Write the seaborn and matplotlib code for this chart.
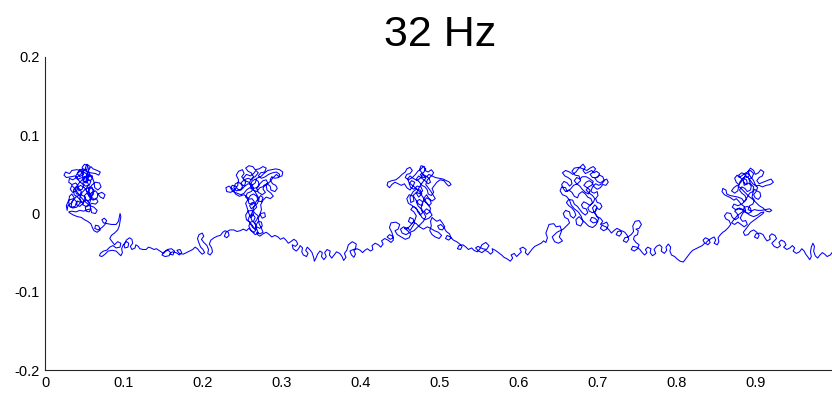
import matplotlib
matplotlib.use("Agg")
import matplotlib.pyplot as plt
import seaborn as sns
import pandas as pd

title = "32 Hz"
x_ticks = [0, 0.1, 0.2, 0.3, 0.4, 0.5, 0.6, 0.7, 0.8, 0.9, 1.0]
x_tick_labels = ["0", "0.1", "0.2", "0.3", "0.4", "0.5", "0.6", "0.7", "0.8", "0.9", "1"]
y_ticks = [-0.2, -0.1, 0, 0.1, 0.2]
y_tick_labels = ["-0.2", "-0.1", "0", "0.1", "0.2"]

cluster_1 = [
    (0.050, 0.040), (0.054, 0.044), (0.058, 0.041), (0.056, 0.036), (0.051, 0.035), (0.048, 0.039),
    (0.050, 0.045), (0.055, 0.050), (0.060, 0.048), (0.059, 0.043), (0.054, 0.042), (0.052, 0.047),
    (0.055, 0.055), (0.058, 0.060), (0.061, 0.057), (0.066, 0.055), (0.070, 0.053), (0.068, 0.049),
    (0.064, 0.051), (0.058, 0.052), (0.053, 0.053), (0.049, 0.057), (0.044, 0.056), (0.041, 0.051),
    (0.044, 0.047), (0.048, 0.050), (0.046, 0.055), (0.040, 0.056), (0.034, 0.055), (0.031, 0.051),
    (0.026, 0.053), (0.024, 0.049), (0.027, 0.046), (0.033, 0.047), (0.038, 0.048), (0.041, 0.044),
    (0.045, 0.040), (0.049, 0.036), (0.047, 0.031), (0.043, 0.029), (0.041, 0.033), (0.045, 0.036),
    (0.050, 0.033), (0.053, 0.028), (0.057, 0.025), (0.061, 0.028), (0.060, 0.033), (0.056, 0.034),
    (0.055, 0.030), (0.058, 0.022), (0.062, 0.018), (0.066, 0.020), (0.067, 0.025), (0.072, 0.027),
    (0.076, 0.024), (0.074, 0.019), (0.070, 0.021), (0.064, 0.029), (0.060, 0.027), (0.059, 0.021),
    (0.055, 0.016), (0.051, 0.018), (0.050, 0.023), (0.053, 0.026), (0.057, 0.024), (0.058, 0.018),
    (0.056, 0.012), (0.052, 0.009), (0.048, 0.011), (0.049, 0.016), (0.053, 0.017), (0.056, 0.013),
    (0.058, 0.006), (0.056, 0.002), (0.052, 0.003), (0.051, 0.008), (0.055, 0.010), (0.059, 0.013),
    (0.064, 0.012), (0.067, 0.015), (0.065, 0.019), (0.061, 0.017), (0.057, 0.020), (0.054, 0.025),
    (0.052, 0.031), (0.055, 0.037), (0.052, 0.044), (0.056, 0.047), (0.054, 0.052), (0.051, 0.058),
    (0.053, 0.063), (0.056, 0.061), (0.055, 0.055), (0.057, 0.049), (0.053, 0.045), (0.049, 0.047),
    (0.047, 0.043), (0.044, 0.040), (0.041, 0.036), (0.038, 0.030), (0.040, 0.025), (0.044, 0.024),
    (0.046, 0.028), (0.043, 0.032), (0.039, 0.034), (0.036, 0.030), (0.037, 0.024), (0.041, 0.021),
    (0.045, 0.017), (0.048, 0.013), (0.044, 0.009), (0.040, 0.011), (0.041, 0.016), (0.045, 0.014),
    (0.040, 0.008), (0.035, 0.007), (0.031, 0.009), (0.030, 0.015), (0.031, 0.022), (0.034, 0.025),
    (0.037, 0.020), (0.034, 0.014), (0.029, 0.010), (0.028, 0.004),
    (0.027, 0.010), (0.030, 0.017), (0.036, 0.019), (0.040, 0.015), (0.038, 0.009), (0.033, 0.008),
    (0.034, 0.015), (0.040, 0.022), (0.046, 0.024), (0.051, 0.021), (0.050, 0.015), (0.045, 0.014),
    (0.044, 0.020), (0.047, 0.027), (0.052, 0.032), (0.058, 0.033), (0.062, 0.030), (0.061, 0.024),
    (0.056, 0.022), (0.055, 0.028), (0.059, 0.036), (0.064, 0.040), (0.069, 0.039), (0.071, 0.034),
    (0.067, 0.030), (0.063, 0.033), (0.062, 0.040), (0.060, 0.046), (0.055, 0.049), (0.050, 0.047),
    (0.048, 0.042), (0.052, 0.039), (0.055, 0.043), (0.053, 0.050), (0.048, 0.054), (0.042, 0.053),
    (0.039, 0.048), (0.042, 0.044), (0.047, 0.046), (0.049, 0.052), (0.047, 0.059), (0.050, 0.063),
    (0.054, 0.061), (0.053, 0.056), (0.049, 0.055), (0.045, 0.050), (0.040, 0.046), (0.035, 0.043),
    (0.031, 0.045), (0.030, 0.040), (0.034, 0.037), (0.039, 0.039), (0.042, 0.035), (0.040, 0.029),
    (0.035, 0.027), (0.032, 0.031), (0.034, 0.036), (0.039, 0.030), (0.043, 0.024), (0.047, 0.019),
    (0.052, 0.014), (0.057, 0.010), (0.062, 0.008), (0.066, 0.004), (0.064, 0.000), (0.059, 0.001),
    (0.058, 0.006), (0.054, 0.005), (0.049, 0.003), (0.044, 0.004), (0.039, 0.002), (0.034, 0.003),
    (0.030, 0.002),
]

drift_1 = [
    (0.031, 0.001), (0.036, -0.002), (0.041, -0.004), (0.046, -0.005), (0.050, -0.008), (0.054, -0.010),
    (0.058, -0.013), (0.060, -0.018), (0.062, -0.022), (0.066, -0.024), (0.070, -0.021), (0.068, -0.016),
    (0.064, -0.015), (0.063, -0.019), (0.067, -0.021), (0.072, -0.018), (0.076, -0.014), (0.078, -0.009),
    (0.075, -0.006), (0.072, -0.008), (0.074, -0.012), (0.079, -0.013), (0.084, -0.014), (0.090, -0.014),
    (0.093, -0.010), (0.094, -0.005), (0.095, 0.000), (0.096, -0.004), (0.095, -0.010), (0.094, -0.016),
    (0.092, -0.021), (0.088, -0.025), (0.084, -0.028), (0.082, -0.032), (0.085, -0.036), (0.088, -0.040),
    (0.092, -0.036), (0.096, -0.038), (0.095, -0.043), (0.090, -0.044), (0.086, -0.041), (0.082, -0.043),
    (0.078, -0.047), (0.074, -0.048), (0.070, -0.051), (0.069, -0.054), (0.072, -0.055), (0.076, -0.052),
    (0.080, -0.048), (0.085, -0.047), (0.090, -0.048), (0.093, -0.051), (0.096, -0.054), (0.098, -0.050),
    (0.097, -0.045), (0.099, -0.040), (0.103, -0.036), (0.106, -0.038), (0.105, -0.043), (0.101, -0.044),
    (0.100, -0.040), (0.103, -0.034), (0.107, -0.031), (0.110, -0.033), (0.111, -0.038), (0.108, -0.042),
    (0.110, -0.046), (0.114, -0.044), (0.115, -0.040), (0.118, -0.042), (0.120, -0.045), (0.124, -0.046),
    (0.128, -0.046), (0.131, -0.043), (0.134, -0.044), (0.138, -0.046), (0.141, -0.045), (0.144, -0.047),
    (0.147, -0.049), (0.150, -0.051), (0.153, -0.048), (0.156, -0.047), (0.159, -0.050), (0.157, -0.054),
    (0.152, -0.055), (0.148, -0.053), (0.151, -0.049), (0.155, -0.046), (0.160, -0.045), (0.164, -0.048),
    (0.162, -0.053), (0.158, -0.052), (0.161, -0.049), (0.166, -0.050), (0.170, -0.053), (0.173, -0.050),
    (0.171, -0.046), (0.167, -0.047), (0.170, -0.051), (0.175, -0.052), (0.179, -0.050), (0.183, -0.048),
    (0.187, -0.046), (0.190, -0.043), (0.193, -0.045), (0.196, -0.049), (0.199, -0.052), (0.202, -0.050),
    (0.200, -0.046), (0.197, -0.043), (0.195, -0.038), (0.193, -0.032), (0.195, -0.027), (0.199, -0.025),
    (0.201, -0.029), (0.198, -0.033), (0.201, -0.037), (0.205, -0.041), (0.207, -0.046), (0.206, -0.051),
    (0.209, -0.053), (0.212, -0.049), (0.211, -0.044), (0.208, -0.039), (0.210, -0.034), (0.214, -0.031),
    (0.218, -0.029), (0.222, -0.028), (0.225, -0.024), (0.228, -0.022), (0.232, -0.024), (0.233, -0.028),
    (0.230, -0.031), (0.227, -0.029), (0.229, -0.024), (0.234, -0.021), (0.239, -0.021), (0.243, -0.023),
    (0.247, -0.022), (0.251, -0.020), (0.255, -0.022), (0.258, -0.019),
]

cluster_2 = [
    (0.262, -0.023), (0.266, -0.027), (0.270, -0.025), (0.268, -0.020), (0.263, -0.018), (0.260, -0.013),
    (0.257, -0.008), (0.259, -0.003), (0.263, -0.001), (0.266, -0.005), (0.264, -0.010), (0.260, -0.011),
    (0.258, -0.016), (0.261, -0.022), (0.265, -0.024), (0.268, -0.019), (0.266, -0.013), (0.262, -0.009),
    (0.260, -0.004), (0.262, 0.001), (0.265, 0.005), (0.268, 0.008), (0.266, 0.013), (0.262, 0.014),
    (0.259, 0.010), (0.261, 0.006), (0.265, 0.009), (0.267, 0.015), (0.270, 0.019), (0.273, 0.023),
    (0.276, 0.020), (0.274, 0.015), (0.270, 0.016), (0.268, 0.022), (0.264, 0.025), (0.260, 0.023),
    (0.257, 0.018), (0.254, 0.021), (0.256, 0.026), (0.261, 0.028), (0.264, 0.032), (0.262, 0.037),
    (0.257, 0.038), (0.253, 0.035), (0.249, 0.037), (0.245, 0.040), (0.241, 0.038), (0.239, 0.033),
    (0.242, 0.029), (0.247, 0.030), (0.250, 0.034), (0.248, 0.039), (0.252, 0.043), (0.257, 0.045),
    (0.262, 0.043), (0.264, 0.047), (0.261, 0.052), (0.257, 0.054), (0.254, 0.058), (0.258, 0.061),
    (0.263, 0.060), (0.266, 0.056), (0.271, 0.057), (0.276, 0.060), (0.280, 0.058), (0.278, 0.053),
    (0.273, 0.052), (0.270, 0.048), (0.274, 0.045), (0.279, 0.047), (0.283, 0.050), (0.288, 0.052),
    (0.293, 0.053), (0.297, 0.050), (0.296, 0.046), (0.291, 0.045), (0.287, 0.047), (0.285, 0.043),
    (0.288, 0.038), (0.292, 0.036), (0.294, 0.032), (0.291, 0.028), (0.286, 0.030), (0.285, 0.035),
    (0.281, 0.038), (0.277, 0.036), (0.276, 0.031), (0.279, 0.027), (0.275, 0.024), (0.270, 0.027),
    (0.268, 0.032), (0.271, 0.036), (0.270, 0.041), (0.266, 0.044), (0.262, 0.041), (0.260, 0.036),
    (0.263, 0.032), (0.268, 0.033), (0.272, 0.038), (0.276, 0.042), (0.280, 0.043), (0.282, 0.039),
    (0.278, 0.035), (0.272, 0.033), (0.268, 0.028), (0.264, 0.030), (0.259, 0.033), (0.255, 0.030),
    (0.252, 0.026), (0.248, 0.024), (0.243, 0.026), (0.238, 0.028), (0.235, 0.032), (0.237, 0.036),
    (0.241, 0.035), (0.244, 0.031), (0.248, 0.030), (0.252, 0.034), (0.254, 0.040), (0.251, 0.045),
    (0.255, 0.050), (0.260, 0.048), (0.264, 0.051), (0.267, 0.055), (0.270, 0.052), (0.266, 0.047),
    (0.262, 0.045), (0.259, 0.040), (0.261, 0.033), (0.265, 0.029), (0.268, 0.024), (0.271, 0.019),
    (0.269, 0.013), (0.265, 0.010), (0.263, 0.004), (0.266, 0.000), (0.270, -0.003), (0.268, -0.008),
    (0.265, -0.012), (0.268, -0.017), (0.272, -0.019), (0.275, -0.016), (0.274, -0.011), (0.270, -0.010),
    (0.267, -0.015), (0.266, -0.021),
    (0.263, -0.016), (0.259, -0.011), (0.255, -0.008), (0.254, -0.002), (0.257, 0.003), (0.262, 0.004),
    (0.264, -0.001), (0.261, -0.005), (0.258, 0.000), (0.256, 0.007), (0.254, 0.013), (0.257, 0.018),
    (0.262, 0.019), (0.265, 0.015), (0.262, 0.011), (0.258, 0.013), (0.257, 0.020), (0.252, 0.024),
    (0.246, 0.022), (0.241, 0.025), (0.238, 0.031), (0.233, 0.035), (0.229, 0.033), (0.230, 0.028),
    (0.235, 0.027), (0.240, 0.030), (0.244, 0.036), (0.245, 0.043), (0.242, 0.049), (0.245, 0.054),
    (0.250, 0.056), (0.252, 0.051), (0.249, 0.047), (0.253, 0.042), (0.258, 0.040), (0.262, 0.036),
    (0.266, 0.039), (0.268, 0.045), (0.273, 0.047), (0.277, 0.051), (0.282, 0.055), (0.287, 0.056),
    (0.292, 0.057), (0.297, 0.056), (0.301, 0.053), (0.300, 0.048), (0.296, 0.047), (0.293, 0.050),
    (0.289, 0.046), (0.285, 0.041), (0.280, 0.036), (0.281, 0.030), (0.286, 0.026), (0.289, 0.022),
    (0.285, 0.019), (0.280, 0.021), (0.276, 0.017), (0.273, 0.011), (0.274, 0.005), (0.272, -0.001),
    (0.275, -0.006), (0.279, -0.004), (0.278, 0.001), (0.273, 0.000), (0.270, -0.006), (0.271, -0.013),
    (0.274, -0.019), (0.276, -0.024), (0.272, -0.026), (0.268, -0.024),
]

drift_2 = [
    (0.269, -0.027), (0.272, -0.029), (0.276, -0.026), (0.280, -0.024), (0.284, -0.027), (0.287, -0.030),
    (0.291, -0.028), (0.295, -0.030), (0.298, -0.033), (0.302, -0.031), (0.305, -0.034), (0.308, -0.038),
    (0.311, -0.036), (0.315, -0.033), (0.318, -0.035), (0.320, -0.039), (0.317, -0.042), (0.313, -0.040),
    (0.314, -0.045), (0.318, -0.048), (0.321, -0.045), (0.323, -0.041), (0.326, -0.044), (0.325, -0.049),
    (0.327, -0.053), (0.331, -0.055), (0.333, -0.051), (0.330, -0.047), (0.332, -0.043), (0.335, -0.046),
    (0.338, -0.050), (0.340, -0.056), (0.341, -0.061), (0.343, -0.057), (0.345, -0.052), (0.348, -0.048),
    (0.351, -0.050), (0.350, -0.055), (0.353, -0.059), (0.356, -0.055), (0.354, -0.050), (0.357, -0.046),
    (0.361, -0.048), (0.360, -0.053), (0.363, -0.057), (0.366, -0.053), (0.369, -0.049), (0.373, -0.051),
    (0.376, -0.055), (0.378, -0.060), (0.381, -0.056), (0.379, -0.051), (0.382, -0.047), (0.384, -0.040),
    (0.389, -0.036), (0.394, -0.039), (0.393, -0.045), (0.388, -0.047), (0.386, -0.048),
    (0.388, -0.053), (0.391, -0.056), (0.393, -0.052), (0.391, -0.047), (0.395, -0.045), (0.399, -0.047),
    (0.402, -0.050), (0.405, -0.047), (0.408, -0.045), (0.412, -0.048), (0.415, -0.046), (0.414, -0.041),
    (0.418, -0.038), (0.422, -0.040), (0.425, -0.043), (0.428, -0.039), (0.426, -0.035), (0.430, -0.032),
    (0.434, -0.034), (0.438, -0.037), (0.441, -0.034), (0.440, -0.029), (0.436, -0.027), (0.433, -0.030),
    (0.437, -0.033), (0.441, -0.031), (0.439, -0.024), (0.436, -0.018), (0.438, -0.012), (0.444, -0.011),
    (0.449, -0.014), (0.447, -0.020), (0.443, -0.022), (0.446, -0.027), (0.451, -0.030), (0.456, -0.033),
    (0.461, -0.031), (0.463, -0.026), (0.459, -0.022), (0.455, -0.019), (0.459, -0.018), (0.462, -0.022),
]

cluster_3 = [
    (0.465, -0.017), (0.468, -0.012), (0.466, -0.007), (0.462, -0.005), (0.460, -0.010), (0.464, -0.013),
    (0.468, -0.009), (0.470, -0.003), (0.467, 0.002), (0.463, 0.005), (0.466, 0.009), (0.470, 0.007),
    (0.472, 0.002), (0.475, -0.002), (0.478, 0.001), (0.476, 0.006), (0.472, 0.010), (0.470, 0.015),
    (0.474, 0.018), (0.478, 0.015), (0.477, 0.010), (0.473, 0.012), (0.469, 0.018), (0.466, 0.023),
    (0.470, 0.027), (0.475, 0.025), (0.478, 0.029), (0.476, 0.034), (0.471, 0.035), (0.467, 0.031),
    (0.463, 0.033), (0.461, 0.038), (0.464, 0.042), (0.468, 0.040), (0.466, 0.035), (0.462, 0.030),
    (0.458, 0.033), (0.455, 0.038), (0.451, 0.036), (0.447, 0.038), (0.443, 0.040), (0.439, 0.037),
    (0.436, 0.033), (0.433, 0.036), (0.434, 0.040), (0.439, 0.042), (0.444, 0.043), (0.448, 0.046),
    (0.452, 0.050), (0.456, 0.053), (0.458, 0.057), (0.462, 0.059), (0.465, 0.055), (0.462, 0.051),
    (0.458, 0.050), (0.456, 0.046), (0.460, 0.043), (0.465, 0.046), (0.469, 0.050), (0.472, 0.054),
    (0.476, 0.057), (0.479, 0.060), (0.482, 0.057), (0.479, 0.052), (0.475, 0.050), (0.478, 0.046),
    (0.483, 0.047), (0.486, 0.050), (0.490, 0.048), (0.494, 0.046), (0.499, 0.045), (0.504, 0.044),
    (0.508, 0.042), (0.512, 0.040), (0.514, 0.037), (0.511, 0.035), (0.508, 0.038), (0.505, 0.042),
    (0.500, 0.043), (0.496, 0.040), (0.493, 0.036), (0.490, 0.032), (0.492, 0.027), (0.489, 0.023),
    (0.485, 0.025), (0.484, 0.030), (0.481, 0.034), (0.477, 0.036), (0.474, 0.040), (0.470, 0.044),
    (0.473, 0.048), (0.477, 0.045), (0.481, 0.042), (0.485, 0.038), (0.488, 0.040), (0.486, 0.045),
    (0.482, 0.048), (0.478, 0.050), (0.476, 0.046), (0.471, 0.042), (0.466, 0.045), (0.462, 0.048),
    (0.459, 0.044), (0.461, 0.039), (0.465, 0.036), (0.470, 0.032), (0.474, 0.028), (0.477, 0.023),
    (0.480, 0.018), (0.483, 0.014), (0.486, 0.010), (0.489, 0.013), (0.487, 0.018), (0.483, 0.020),
    (0.480, 0.016), (0.484, 0.012), (0.488, 0.007), (0.487, 0.002), (0.483, -0.001), (0.480, 0.003),
    (0.483, 0.006), (0.487, 0.003), (0.490, -0.002),
    (0.486, -0.006), (0.481, -0.008), (0.477, -0.005), (0.474, 0.001), (0.470, 0.006), (0.465, 0.010),
    (0.460, 0.013), (0.458, 0.019), (0.461, 0.024), (0.466, 0.022), (0.467, 0.016), (0.463, 0.014),
    (0.462, 0.021), (0.466, 0.028), (0.470, 0.031), (0.475, 0.030), (0.477, 0.025), (0.473, 0.021),
    (0.470, 0.026), (0.474, 0.034), (0.478, 0.040), (0.482, 0.045), (0.478, 0.051), (0.474, 0.056),
    (0.476, 0.061), (0.480, 0.060), (0.481, 0.055), (0.485, 0.053), (0.489, 0.056), (0.492, 0.052),
    (0.489, 0.048), (0.484, 0.043), (0.482, 0.037), (0.485, 0.033), (0.488, 0.029), (0.491, 0.024),
    (0.494, 0.019), (0.490, 0.016), (0.486, 0.019), (0.483, 0.024), (0.480, 0.020), (0.478, 0.013),
    (0.476, 0.007), (0.479, 0.002), (0.482, -0.004), (0.479, -0.010), (0.475, -0.014), (0.471, -0.018),
    (0.467, -0.022), (0.462, -0.024), (0.457, -0.027), (0.452, -0.025), (0.450, -0.020), (0.454, -0.017),
    (0.458, -0.020), (0.462, -0.016), (0.466, -0.011), (0.470, -0.013), (0.474, -0.017), (0.479, -0.020),
    (0.484, -0.017), (0.488, -0.019), (0.493, -0.022), (0.498, -0.024), (0.502, -0.028), (0.499, -0.032),
    (0.494, -0.030), (0.490, -0.027), (0.487, -0.022), (0.489, -0.016), (0.488, -0.010), (0.490, -0.005),
]

drift_3 = [
    (0.492, -0.007), (0.496, -0.010), (0.500, -0.008), (0.503, -0.012), (0.506, -0.017), (0.503, -0.021),
    (0.499, -0.020), (0.497, -0.016), (0.501, -0.014), (0.505, -0.018), (0.508, -0.023), (0.512, -0.026),
    (0.514, -0.031), (0.511, -0.034), (0.507, -0.032), (0.509, -0.028), (0.513, -0.030), (0.517, -0.034),
    (0.521, -0.036), (0.525, -0.039), (0.528, -0.042), (0.526, -0.046), (0.522, -0.045), (0.524, -0.041),
    (0.529, -0.040), (0.533, -0.043), (0.536, -0.046), (0.540, -0.044), (0.543, -0.047), (0.547, -0.049),
    (0.550, -0.046), (0.553, -0.040), (0.558, -0.037), (0.562, -0.041), (0.559, -0.046), (0.554, -0.045),
    (0.548, -0.042), (0.545, -0.044), (0.549, -0.048), (0.553, -0.050), (0.557, -0.047),
    (0.561, -0.049), (0.564, -0.052), (0.567, -0.049), (0.566, -0.045), (0.570, -0.047), (0.574, -0.050),
    (0.578, -0.053), (0.581, -0.056), (0.585, -0.058), (0.589, -0.061), (0.592, -0.057), (0.590, -0.053),
    (0.594, -0.051), (0.597, -0.055), (0.600, -0.052), (0.603, -0.049), (0.601, -0.045), (0.605, -0.043),
    (0.609, -0.046), (0.608, -0.050), (0.611, -0.053), (0.614, -0.049), (0.617, -0.045), (0.620, -0.042),
    (0.624, -0.040), (0.628, -0.038), (0.631, -0.035), (0.634, -0.037), (0.636, -0.031), (0.634, -0.025),
    (0.638, -0.014), (0.644, -0.013), (0.647, -0.017), (0.652, -0.016), (0.654, -0.022), (0.651, -0.030),
    (0.655, -0.035), (0.650, -0.038), (0.645, -0.036), (0.642, -0.030), (0.648, -0.024), (0.652, -0.022),
    (0.656, -0.020),
]

cluster_4 = [
    (0.660, -0.016), (0.664, -0.012), (0.662, -0.007), (0.658, -0.005), (0.656, 0.000), (0.659, 0.004),
    (0.664, 0.002), (0.665, -0.003), (0.669, -0.006), (0.672, -0.002), (0.670, 0.003), (0.667, 0.007),
    (0.663, 0.010), (0.660, 0.014), (0.663, 0.018), (0.668, 0.017), (0.670, 0.012), (0.674, 0.009),
    (0.677, 0.005), (0.680, 0.001), (0.684, -0.002), (0.687, 0.001), (0.685, 0.006), (0.681, 0.007),
    (0.679, 0.011), (0.682, 0.015), (0.686, 0.013), (0.690, 0.010), (0.693, 0.014), (0.691, 0.019),
    (0.687, 0.021), (0.684, 0.025), (0.680, 0.028), (0.676, 0.025), (0.674, 0.020), (0.670, 0.022),
    (0.667, 0.027), (0.663, 0.030), (0.659, 0.028), (0.656, 0.032), (0.654, 0.037), (0.657, 0.041),
    (0.661, 0.039), (0.664, 0.035), (0.667, 0.038), (0.666, 0.043), (0.662, 0.046), (0.658, 0.048),
    (0.655, 0.052), (0.659, 0.055), (0.664, 0.053), (0.668, 0.050), (0.672, 0.053), (0.675, 0.057),
    (0.678, 0.060), (0.681, 0.063), (0.684, 0.059), (0.681, 0.055), (0.684, 0.051), (0.688, 0.053),
    (0.692, 0.055), (0.695, 0.052), (0.698, 0.054), (0.702, 0.051), (0.700, 0.047), (0.696, 0.045),
    (0.699, 0.041), (0.703, 0.039), (0.707, 0.042), (0.711, 0.044), (0.713, 0.040), (0.710, 0.036),
    (0.706, 0.037), (0.703, 0.033), (0.699, 0.031), (0.695, 0.034), (0.693, 0.039), (0.689, 0.042),
    (0.685, 0.040), (0.682, 0.036), (0.686, 0.033), (0.690, 0.030), (0.688, 0.025), (0.684, 0.027),
    (0.680, 0.031), (0.677, 0.035), (0.673, 0.038), (0.670, 0.042), (0.673, 0.046), (0.677, 0.044),
    (0.680, 0.047), (0.685, 0.047), (0.690, 0.044), (0.694, 0.041), (0.692, 0.036), (0.688, 0.034),
    (0.685, 0.030), (0.689, 0.026), (0.693, 0.023), (0.696, 0.019), (0.694, 0.014), (0.690, 0.011),
    (0.687, 0.007), (0.689, 0.003), (0.693, 0.001), (0.697, 0.003), (0.699, 0.008), (0.696, 0.011),
    (0.693, 0.007), (0.695, 0.002), (0.698, -0.003), (0.701, -0.007), (0.698, -0.011), (0.694, -0.012),
    (0.690, -0.009), (0.692, -0.005), (0.696, -0.006), (0.700, -0.010),
    (0.697, -0.015), (0.693, -0.018), (0.688, -0.016), (0.684, -0.012), (0.680, -0.008), (0.676, -0.004),
    (0.672, -0.008), (0.673, -0.014), (0.678, -0.016), (0.681, -0.011), (0.679, -0.004), (0.675, 0.002),
    (0.670, 0.006), (0.666, 0.011), (0.664, 0.017), (0.660, 0.022), (0.655, 0.024), (0.652, 0.029),
    (0.654, 0.034), (0.659, 0.033), (0.661, 0.028), (0.665, 0.031), (0.669, 0.036), (0.674, 0.038),
    (0.678, 0.042), (0.676, 0.048), (0.671, 0.049), (0.667, 0.054), (0.670, 0.058), (0.676, 0.059),
    (0.681, 0.057), (0.686, 0.055), (0.690, 0.058), (0.694, 0.060), (0.697, 0.057), (0.694, 0.053),
    (0.690, 0.050), (0.693, 0.046), (0.698, 0.046), (0.702, 0.049), (0.706, 0.047), (0.708, 0.042),
    (0.705, 0.038), (0.701, 0.036), (0.697, 0.038), (0.693, 0.034), (0.691, 0.028), (0.695, 0.026),
    (0.699, 0.028), (0.700, 0.023), (0.697, 0.019), (0.699, 0.014), (0.703, 0.013), (0.705, 0.009),
    (0.702, 0.005), (0.698, 0.007), (0.696, 0.001), (0.699, -0.004), (0.703, -0.006), (0.706, -0.010),
]

drift_4 = [
    (0.703, -0.014), (0.707, -0.013), (0.711, -0.011), (0.713, -0.015), (0.711, -0.020), (0.707, -0.022),
    (0.703, -0.019), (0.705, -0.015), (0.710, -0.017), (0.714, -0.021), (0.717, -0.025), (0.720, -0.022),
    (0.724, -0.019), (0.728, -0.021), (0.730, -0.025), (0.727, -0.029), (0.723, -0.027), (0.725, -0.023),
    (0.730, -0.022), (0.734, -0.024), (0.737, -0.028), (0.739, -0.033), (0.736, -0.037), (0.732, -0.035),
    (0.734, -0.031), (0.738, -0.030), (0.742, -0.027), (0.745, -0.023), (0.744, -0.016), (0.747, -0.010),
    (0.752, -0.009), (0.755, -0.014), (0.752, -0.019), (0.748, -0.020), (0.751, -0.022),
    (0.750, -0.027), (0.746, -0.029), (0.745, -0.033), (0.748, -0.037), (0.752, -0.040), (0.750, -0.045),
    (0.746, -0.048), (0.742, -0.046), (0.744, -0.042), (0.749, -0.043), (0.753, -0.046), (0.756, -0.050),
    (0.759, -0.053), (0.762, -0.050), (0.760, -0.046), (0.763, -0.043), (0.767, -0.045), (0.766, -0.050),
    (0.769, -0.054), (0.773, -0.051), (0.771, -0.046), (0.774, -0.042), (0.778, -0.040), (0.781, -0.043),
    (0.780, -0.048), (0.784, -0.051), (0.787, -0.047), (0.786, -0.043), (0.789, -0.039), (0.792, -0.043),
    (0.791, -0.048), (0.793, -0.053), (0.797, -0.055), (0.800, -0.058), (0.804, -0.061), (0.808, -0.062),
    (0.811, -0.058), (0.814, -0.054), (0.817, -0.050), (0.820, -0.047), (0.824, -0.045), (0.828, -0.043),
    (0.832, -0.041), (0.835, -0.038), (0.833, -0.034), (0.836, -0.031), (0.840, -0.033), (0.842, -0.037),
    (0.839, -0.040), (0.836, -0.038), (0.839, -0.035), (0.843, -0.032), (0.847, -0.030), (0.849, -0.034),
    (0.847, -0.038), (0.851, -0.040), (0.853, -0.036), (0.852, -0.031), (0.855, -0.027), (0.858, -0.024),
    (0.861, -0.022),
]

cluster_5 = [
    (0.865, -0.018), (0.868, -0.014), (0.866, -0.009), (0.862, -0.007), (0.860, -0.003), (0.863, 0.001),
    (0.868, 0.000), (0.870, -0.005), (0.874, -0.008), (0.878, -0.005), (0.876, 0.000), (0.873, 0.003),
    (0.877, 0.006), (0.882, 0.005), (0.886, 0.002), (0.890, 0.000), (0.894, 0.002), (0.893, 0.007),
    (0.889, 0.009), (0.885, 0.008), (0.884, 0.003), (0.880, 0.000), (0.876, -0.003), (0.872, -0.008),
    (0.869, -0.012), (0.873, -0.014), (0.877, -0.011), (0.881, -0.014), (0.885, -0.017), (0.889, -0.014),
    (0.887, -0.009), (0.883, -0.010), (0.880, -0.006), (0.883, 0.000), (0.887, 0.004), (0.885, 0.009),
    (0.881, 0.012), (0.878, 0.016), (0.875, 0.019), (0.872, 0.017), (0.868, 0.020), (0.864, 0.022),
    (0.860, 0.024), (0.857, 0.028), (0.858, 0.032), (0.862, 0.030), (0.863, 0.025), (0.867, 0.023),
    (0.872, 0.022), (0.877, 0.021), (0.882, 0.019), (0.885, 0.015), (0.888, 0.018), (0.886, 0.023),
    (0.882, 0.026), (0.879, 0.030), (0.882, 0.034), (0.886, 0.032), (0.889, 0.028), (0.893, 0.030),
    (0.894, 0.035), (0.891, 0.039), (0.887, 0.037), (0.884, 0.041), (0.881, 0.045), (0.878, 0.049),
    (0.882, 0.052), (0.886, 0.050), (0.889, 0.046), (0.892, 0.049), (0.890, 0.054), (0.893, 0.058),
    (0.897, 0.055), (0.899, 0.050), (0.903, 0.052), (0.906, 0.056), (0.910, 0.053), (0.908, 0.048),
    (0.904, 0.046), (0.901, 0.042), (0.904, 0.038), (0.909, 0.040), (0.914, 0.042), (0.919, 0.044),
    (0.922, 0.040), (0.918, 0.037), (0.913, 0.036), (0.908, 0.034), (0.904, 0.036), (0.900, 0.035),
    (0.896, 0.038), (0.893, 0.042), (0.890, 0.046), (0.886, 0.047), (0.883, 0.045), (0.881, 0.040),
    (0.878, 0.037), (0.875, 0.040), (0.873, 0.045), (0.876, 0.049), (0.879, 0.046), (0.883, 0.049),
    (0.887, 0.052), (0.891, 0.050), (0.894, 0.046), (0.897, 0.042), (0.899, 0.037), (0.902, 0.033),
    (0.900, 0.028), (0.897, 0.024), (0.899, 0.020), (0.903, 0.018), (0.906, 0.022), (0.905, 0.027),
    (0.901, 0.029), (0.898, 0.031), (0.896, 0.026), (0.895, 0.021), (0.898, 0.017), (0.896, 0.012),
    (0.892, 0.010), (0.890, 0.005), (0.894, 0.003), (0.898, 0.005), (0.902, 0.004), (0.907, 0.004),
    (0.912, 0.005), (0.917, 0.006), (0.920, 0.004), (0.917, 0.002), (0.913, 0.003),
    (0.909, 0.007), (0.904, 0.010), (0.900, 0.014), (0.896, 0.018), (0.892, 0.021), (0.888, 0.025),
    (0.884, 0.029), (0.880, 0.033), (0.876, 0.036), (0.872, 0.033), (0.869, 0.029), (0.873, 0.026),
    (0.877, 0.029), (0.878, 0.035), (0.880, 0.041), (0.884, 0.045), (0.888, 0.043), (0.889, 0.038),
    (0.885, 0.036), (0.884, 0.042), (0.886, 0.048), (0.889, 0.053), (0.893, 0.055), (0.897, 0.051),
    (0.895, 0.046), (0.891, 0.044), (0.893, 0.038), (0.897, 0.034), (0.896, 0.028), (0.892, 0.026),
    (0.889, 0.021), (0.886, 0.016), (0.882, 0.012), (0.877, 0.010), (0.872, 0.012), (0.870, 0.008),
    (0.874, 0.005), (0.879, 0.007), (0.884, 0.005), (0.888, 0.001), (0.892, -0.002), (0.897, -0.004),
    (0.902, -0.002), (0.906, 0.001), (0.910, 0.002),
]

drift_5 = [
    (0.909, 0.000), (0.905, -0.003), (0.901, -0.006), (0.897, -0.009), (0.893, -0.012), (0.890, -0.016),
    (0.887, -0.020), (0.884, -0.024), (0.886, -0.028), (0.890, -0.027), (0.893, -0.023), (0.897, -0.021),
    (0.901, -0.024), (0.904, -0.028), (0.902, -0.032), (0.898, -0.030), (0.900, -0.026), (0.905, -0.025),
    (0.909, -0.027), (0.911, -0.031), (0.914, -0.035), (0.918, -0.033), (0.917, -0.029), (0.920, -0.026),
    (0.924, -0.028), (0.926, -0.032), (0.923, -0.035), (0.920, -0.038), (0.923, -0.042), (0.927, -0.044),
    (0.931, -0.041), (0.929, -0.037), (0.932, -0.034), (0.936, -0.036), (0.938, -0.040), (0.935, -0.043),
    (0.939, -0.046), (0.943, -0.044), (0.946, -0.041), (0.949, -0.044), (0.947, -0.048), (0.951, -0.051),
    (0.955, -0.049), (0.958, -0.045), (0.961, -0.048), (0.963, -0.052), (0.966, -0.056), (0.968, -0.059),
    (0.970, -0.055), (0.969, -0.049), (0.970, -0.043), (0.972, -0.038), (0.974, -0.042), (0.973, -0.048),
    (0.975, -0.054), (0.978, -0.057), (0.981, -0.053), (0.984, -0.050), (0.987, -0.052), (0.990, -0.055),
    (0.994, -0.053), (0.997, -0.049), (1.000, -0.048), (1.004, -0.047),
]

segments = [cluster_1, drift_1, cluster_2, drift_2, cluster_3, drift_3, cluster_4, drift_4, cluster_5, drift_5]
path = [p for seg in segments for p in seg]
df = pd.DataFrame(path, columns=["x", "y"])

sns.set_style("white")
plt.rcParams["font.family"] = ["Liberation Sans", "DejaVu Sans"]

fig = plt.figure(figsize=(8.32, 3.97), dpi=100)
ax = fig.add_axes([45 / 832, 27 / 397, 790 / 832, 313 / 397])
sns.lineplot(data=df, x="x", y="y", sort=False, estimator=None, color="#0000ff",
             linewidth=0.75, ax=ax)
ax.set_xlim(0, 1)
ax.set_ylim(-0.2, 0.2)
ax.set_xticks(x_ticks)
ax.set_xticklabels(x_tick_labels)
ax.set_yticks(y_ticks)
ax.set_yticklabels(y_tick_labels)
ax.set_xlabel("")
ax.set_ylabel("")
for side in ("top", "right"):
    ax.spines[side].set_visible(False)
for side in ("left", "bottom"):
    ax.spines[side].set_color("#262626")
    ax.spines[side].set_linewidth(0.8)
ax.tick_params(direction="in", length=5, width=0.7, labelsize=10.5, pad=4, colors="#000000")
ax.set_title(title, fontsize=31, pad=8, color="#000000")
fig.savefig("out.png", dpi=100)
